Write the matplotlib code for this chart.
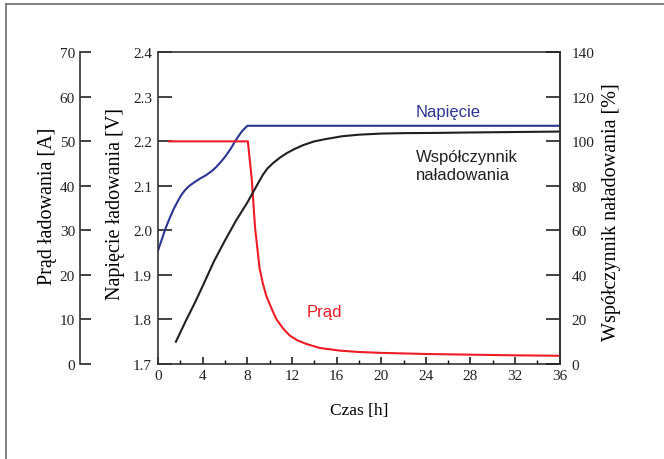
import matplotlib
matplotlib.use("Agg")
import matplotlib.pyplot as plt
from matplotlib.lines import Line2D
from matplotlib.ticker import MultipleLocator, FormatStrFormatter

# charging voltage [V]
time_v = [0, 0.3, 0.65, 1.0, 1.4, 1.8, 2.1, 2.4, 2.8, 3.3, 3.8, 4.3, 4.8, 5.2, 5.6, 6.0, 6.5,
          7.0, 7.5, 8.0, 36]
voltage = [1.955, 1.977, 2.003, 2.025, 2.048, 2.067, 2.080, 2.090, 2.100, 2.109, 2.117, 2.124,
           2.133, 2.142, 2.153, 2.165, 2.183, 2.204, 2.222, 2.235, 2.235]

# charging current [A]
time_i = [1.0, 8.05, 8.4, 8.7, 9.1, 9.4, 9.7, 10.2, 10.6, 11.2, 11.8, 12.5, 13.3, 14.5, 16.3,
          18, 20, 24, 28, 32, 36]
current = [50, 50, 41.5, 30.5, 21.5, 18.0, 15.3, 12.3, 10.1, 8.0, 6.4, 5.3, 4.5, 3.6, 3.0,
           2.7, 2.5, 2.25, 2.1, 1.95, 1.85]

# charge factor [%]
time_c = [1.6, 2.5, 3.3, 4.0, 5.0, 6.0, 7.0, 8.0, 8.5, 9.0, 9.4, 9.8, 10.3, 10.9, 11.5, 12.2,
          13.0, 14.0, 15.0, 16.5, 18, 20, 22, 25, 28, 32, 36]
charge = [10, 19.5, 27.5, 35, 46, 55.5, 64.5, 72.5, 77, 81.5, 85, 87.8, 90.2, 92.6, 94.6, 96.5,
          98.3, 100, 101, 102.3, 103, 103.5, 103.7, 103.8, 104, 104.2, 104.4]

BLUE = "#2b3594"
RED = "#ee1c25"
BLACK = "#231f20"
SPINE = "#333333"
TICK_TXT = "#222222"

plt.rcParams["font.family"] = "Liberation Serif"

fig = plt.figure(figsize=(6.64, 4.60), dpi=100)
ax = fig.add_axes([0.238, 0.2065, 0.605, 0.6776])
ax_i = ax.twinx()
ax_c = ax.twinx()

# main axis: voltage
ax.plot(time_v, voltage, color=BLUE, lw=1.5)
ax.set_xlim(0, 36)
ax.set_ylim(1.7, 2.4)
ax.xaxis.set_major_locator(MultipleLocator(4))
ax.xaxis.set_minor_locator(MultipleLocator(2))
ax.yaxis.set_major_locator(MultipleLocator(0.1))
ax.yaxis.set_major_formatter(FormatStrFormatter("%.1f"))
ax.tick_params(axis="y", direction="in", length=10, width=1.2, pad=4.3, labelsize=11,
               colors=TICK_TXT)
ax.tick_params(axis="x", which="major", direction="in", length=5, width=1.2, pad=3.6,
               labelsize=11, colors=TICK_TXT)
ax.tick_params(axis="x", which="minor", direction="in", length=3, width=1.0)
ax.set_xlabel("Czas [h]", fontsize=12.5)
ax.xaxis.set_label_coords(0.5, -0.122)
ax.set_ylabel("Napięcie ładowania [V]", fontsize=14.5, va="center")
ax.yaxis.set_label_coords(-0.107, 0.517)

# outer left axis: current
ax_i.plot(time_i, current, color=RED, lw=1.5)
ax_i.set_ylim(0, 70)
ax_i.yaxis.set_major_locator(MultipleLocator(10))
ax_i.yaxis.set_label_position("left")
ax_i.yaxis.set_ticks_position("left")
ax_i.spines["left"].set_position(("outward", 56.2))
for side in ("right", "top", "bottom"):
    ax_i.spines[side].set_visible(False)
ax_i.tick_params(axis="y", direction="in", length=8, width=1.2, pad=3.6, labelsize=11,
                 colors=TICK_TXT)
ax_i.set_ylabel("Prąd ładowania [A]", fontsize=14.5, va="center")
ax_i.yaxis.set_label_coords(-0.274, 0.51)

# right axis: charge factor
ax_c.plot(time_c, charge, color=BLACK, lw=1.5)
ax_c.set_ylim(0, 140)
ax_c.yaxis.set_major_locator(MultipleLocator(20))
for side in ("left", "top", "bottom"):
    ax_c.spines[side].set_visible(False)
ax_c.tick_params(axis="y", direction="in", length=10, width=1.2, pad=8.6, labelsize=11,
                 colors=TICK_TXT)
ax_c.set_ylabel("Współczynnik naładowania [%]", fontsize=14.5, va="center")
ax_c.yaxis.set_label_coords(1.129, 0.49)

for a in (ax, ax_i, ax_c):
    for sp in a.spines.values():
        sp.set_linewidth(1.2)
        sp.set_color(SPINE)

# curve labels
ax.text(23.1, 2.266, "Napięcie", color=BLUE, fontsize=12, family="Liberation Sans",
        ha="left", va="center")
ax.text(23.15, 2.146, "Współczynnik\nnaładowania", color=BLACK, fontsize=12,
        family="Liberation Sans", ha="left", va="center", linespacing=1.2)
ax.text(13.3, 1.817, "Prąd", color=RED, fontsize=12, family="Liberation Sans",
        ha="left", va="center")

# frame of the picture (top and left edges)
fig.add_artist(Line2D([5.5 / 664, 1], [1 - 5 / 460, 1 - 5 / 460], color="#777777", lw=1.3))
fig.add_artist(Line2D([5.5 / 664, 5.5 / 664], [0, 1 - 5 / 460], color="#777777", lw=1.3))

fig.savefig("out.png", dpi=100)
